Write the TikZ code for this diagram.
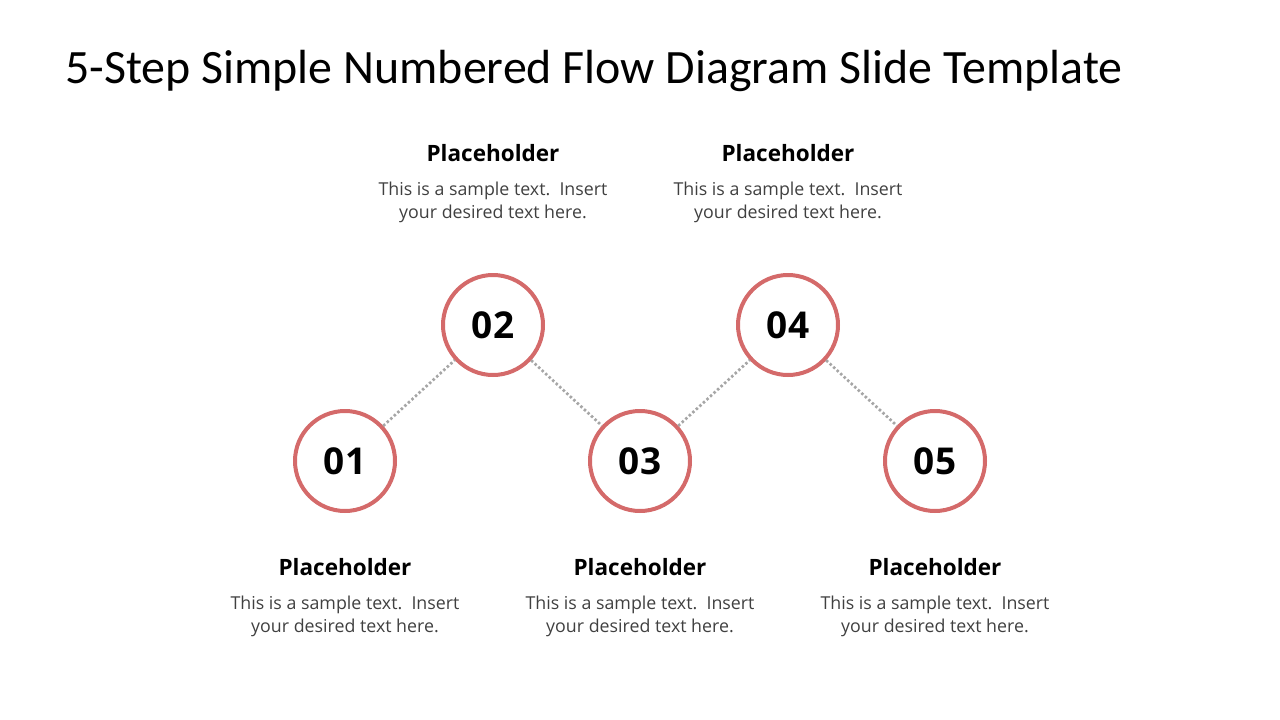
\documentclass[tikz,border=0pt]{standalone}
\usepackage{fontspec}
\setmainfont{Open Sans}
\newfontfamily\titlefont{Carlito}
\usepackage{xcolor}
\usetikzlibrary{positioning}
\definecolor{ringred}{HTML}{D46A6A}
\definecolor{dotgray}{HTML}{A6A6A6}
\definecolor{bodygray}{HTML}{404040}

\begin{document}
\begin{tikzpicture}[x=1pt,y=-1pt]
	\tikzstyle{num}=[circle,draw=ringred,line width=4pt,minimum size=100pt,inner sep=0pt,font=\bfseries\fontsize{37}{37}\selectfont]
	\tikzstyle{head}=[inner sep=0pt,font=\bfseries\fontsize{22.5}{26}\selectfont]
	\tikzstyle{body}=[inner sep=0pt,align=center,text=bodygray,font=\fontsize{17.8}{23}\selectfont]
	\tikzstyle{link}=[dotgray,line width=2.7pt,dash pattern=on 2.5pt off 2.3pt]

	\useasboundingbox (0,0) rectangle (1280,720);

	% Title
	\node [anchor=base west,inner sep=0pt,font=\titlefont\fontsize{47.9}{48}\selectfont] (title) at (65,83)
		{5-Step Simple Numbered Flow Diagram Slide Template};

	% Steps
	\node [num] (s1) at (345,461) {01};
	\node [num] (s2) at (493,325) {02};
	\node [num] (s3) at (640,461) {03};
	\node [num] (s4) at (788,325) {04};
	\node [num] (s5) at (935,461) {05};

	% Dotted links
	\draw [link] (s1) -- (s2);
	\draw [link] (s2) -- (s3);
	\draw [link] (s3) -- (s4);
	\draw [link] (s4) -- (s5);

	% Texts below
	\node [head,below=45pt of s1] (h1) {Placeholder};
	\node [body,below=20pt of h1] (t1) {This is a sample text.\ \ Insert\\your desired text here.};
	\node [head,below=45pt of s3] (h3) {Placeholder};
	\node [body,below=20pt of h3] (t3) {This is a sample text.\ \ Insert\\your desired text here.};
	\node [head,below=45pt of s5] (h5) {Placeholder};
	\node [body,below=20pt of h5] (t5) {This is a sample text.\ \ Insert\\your desired text here.};

	% Texts above
	\node [body,above=50pt of s2] (t2) {This is a sample text.\ \ Insert\\your desired text here.};
	\node [head,above=20pt of t2] (h2) {Placeholder};
	\node [body,above=50pt of s4] (t4) {This is a sample text.\ \ Insert\\your desired text here.};
	\node [head,above=20pt of t4] (h4) {Placeholder};
\end{tikzpicture}
\end{document}
